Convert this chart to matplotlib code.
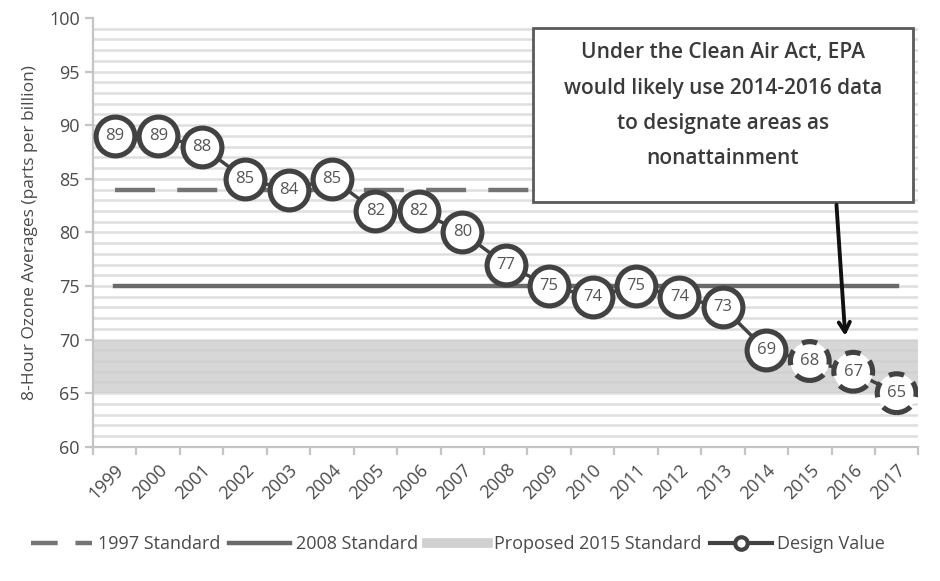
import matplotlib
matplotlib.use("Agg")
import matplotlib.pyplot as plt
from matplotlib.lines import Line2D
from matplotlib.patches import Rectangle
import numpy as np

plt.rcParams['font.family'] = ['Open Sans', 'DejaVu Sans']

# data
years = [str(y) for y in range(1999, 2018)]
design_value = [89, 89, 88, 85, 84, 85, 82, 82, 80, 77, 75, 74, 75, 74, 73, 69, 68, 67, 65]
n_projected = 3            # last three years are projections (dashed markers)
std_1997 = 84
std_2008 = 75
proposed_2015 = (65, 70)
note = "Under the Clean Air Act, EPA\nwould likely use 2014-2016 data\nto designate areas as\nnonattainment"

dark = '#424242'
txtc = '#4a4a4a'

fig = plt.figure(figsize=(9.4, 5.81), dpi=100)
ax = fig.add_axes([0.099, 0.231, 0.878, 0.738])

x = np.arange(len(years))
ax.set_xlim(-0.5, len(years) - 0.5)
ax.set_ylim(60, 100)

# grid every 1 ppb
for yv in range(61, 100):
    ax.axhline(yv, color='#dedede', lw=1.8, zorder=0)

# proposed 2015 band
ax.axhspan(proposed_2015[0], proposed_2015[1], color='#cdcdcd', alpha=0.8, lw=0, zorder=1)

# standards
ax.plot([x[0], x[-1]], [std_1997, std_1997], color='#747474', lw=3.2, dashes=(9, 5), zorder=2)
ax.plot([x[0], x[-1]], [std_2008, std_2008], color='#6a6a6a', lw=3.2, zorder=2)

# design values
ax.plot(x, design_value, color=dark, lw=2.5, zorder=3)
n_obs = len(years) - n_projected
ax.scatter(x[:n_obs], design_value[:n_obs], s=780, facecolor='white', edgecolor=dark,
           linewidth=3.7, zorder=4)
ax.scatter(x[n_obs:], design_value[n_obs:], s=780, facecolor='white', edgecolor=dark,
           linewidth=3.7, linestyle=(0, (3, 2.2)), zorder=4)
for xi, v in zip(x, design_value):
    ax.text(xi, v, str(v), ha='center', va='center', fontsize=12, color='#555555', zorder=5)

# annotation box + arrow
ax.add_patch(Rectangle((9.63, 82.84), 8.74, 16.23, facecolor='white', edgecolor='#5a5a5a',
                       lw=2, zorder=6))
ax.text(14.0, 97.75, note, ha='center', va='top', fontsize=15, fontweight='semibold',
        color='#3a3a3a', linespacing=1.9, zorder=7)
ax.annotate('', xy=(16.82, 70.1), xytext=(16.61, 82.84),
            arrowprops=dict(arrowstyle='->,head_length=0.7,head_width=0.4', color='#111111', lw=2.8),
            zorder=7)

# axes styling
for s in ['top', 'right']:
    ax.spines[s].set_visible(False)
for s in ['left', 'bottom']:
    ax.spines[s].set_color('#c4c4c4')
    ax.spines[s].set_linewidth(1.6)

ax.set_yticks(range(60, 101, 5))
ax.tick_params(axis='y', length=6, color='#c4c4c4', width=1.6, labelsize=13, labelcolor=txtc)
ax.set_xticks(x)
ax.set_xticklabels(years, rotation=45, ha='right', rotation_mode='anchor')
ax.tick_params(axis='x', which='major', length=0, labelsize=13, labelcolor=txtc, pad=10)
ax.set_xticks(np.arange(-0.5, len(years)), minor=True)
ax.tick_params(axis='x', which='minor', length=6, color='#c4c4c4', width=1.6)
ax.set_ylabel('8-Hour Ozone Averages (parts per billion)', fontsize=12.5, color=txtc, labelpad=8)

handles = [
    Line2D([], [], color='#747474', lw=3.2, dashes=(6, 4)),
    Line2D([], [], color='#6a6a6a', lw=3.2),
    Line2D([], [], color='#d0d0d0', lw=7),
    Line2D([], [], color=dark, lw=3, marker='o', markersize=9, markerfacecolor='white',
           markeredgewidth=3),
]
labels = ['1997 Standard', '2008 Standard', 'Proposed 2015 Standard', 'Design Value']
fig.legend(handles, labels, loc='center', bbox_to_anchor=(0.487, 0.063), ncol=4, frameon=False,
           fontsize=13, labelcolor=txtc, handlelength=3.4, handletextpad=0.3, columnspacing=0.5)

fig.savefig('out.png', dpi=100)
